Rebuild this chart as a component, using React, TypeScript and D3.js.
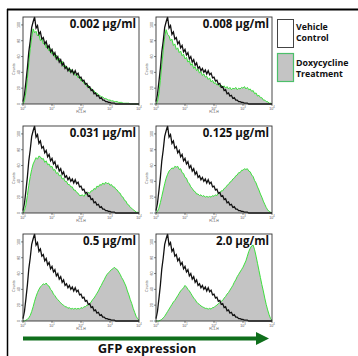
import React from "react";
import * as d3 from "d3";

// log10(FL1-H) bins, 0.05 wide, 0..4
const logBins = d3.range(0, 81).map((i) => i / 20);

const vehicleCounts = [
  3, 12, 28, 45, 66, 80, 97, 104, 110, 96, 99, 88, 91, 82, 84, 76, 79, 71, 74, 66,
  69, 62, 65, 57, 60, 53, 56, 49, 52, 45, 47, 42, 45, 40, 43, 38, 42, 37, 39, 33,
  34, 29, 30, 25, 26, 21, 22, 17, 18, 13, 14, 10, 11, 7, 8, 5, 5, 3, 3, 2,
  2, 1, 1, 1, 0, 0, 0, 0, 0, 0, 0, 0, 0, 0, 0, 0, 0, 0, 0, 0, 0,
];

const dox0002 = [
  0, 4, 15, 32, 52, 70, 84, 95, 90, 92, 86, 88, 80, 83, 76, 78, 71, 74, 67, 70,
  63, 66, 59, 62, 55, 58, 51, 54, 47, 49, 44, 46, 41, 44, 39, 41, 36, 38, 33, 35,
  29, 31, 26, 27, 22, 24, 19, 20, 16, 17, 13, 14, 11, 11, 9, 9, 7, 7, 6, 5,
  5, 4, 4, 3, 3, 3, 2, 2, 2, 1, 1, 1, 1, 1, 0, 0, 0, 0, 0, 0, 0,
];
const dox0008 = [
  0, 3, 13, 30, 50, 68, 85, 94, 88, 86, 80, 82, 74, 76, 69, 71, 65, 67, 61, 63,
  57, 59, 53, 55, 49, 51, 45, 47, 42, 44, 39, 41, 36, 38, 34, 35, 31, 33, 28, 30,
  26, 27, 24, 25, 22, 24, 21, 23, 20, 22, 19, 21, 18, 20, 19, 21, 18, 20, 19, 21,
  20, 22, 19, 21, 18, 19, 16, 17, 13, 14, 10, 11, 8, 8, 5, 5, 3, 3, 1, 1, 0,
];
const dox0031 = [
  0, 3, 10, 22, 35, 46, 55, 62, 66, 70, 68, 72, 71, 68, 69, 64, 66, 61, 62, 58,
  59, 54, 55, 50, 51, 47, 48, 43, 44, 40, 40, 36, 36, 33, 33, 29, 29, 26, 25, 22,
  22, 23, 21, 24, 23, 26, 25, 28, 28, 31, 30, 34, 33, 36, 35, 38, 36, 39, 37, 38,
  35, 36, 33, 33, 30, 29, 26, 25, 21, 20, 16, 15, 11, 10, 7, 6, 4, 3, 1, 1, 0,
];
const dox0125 = [
  0, 2, 6, 13, 21, 29, 37, 44, 49, 53, 55, 57, 56, 59, 58, 59, 55, 56, 51, 50,
  45, 44, 39, 37, 33, 31, 28, 27, 24, 24, 22, 23, 21, 22, 20, 21, 20, 21, 20, 22,
  21, 23, 22, 25, 25, 28, 28, 31, 32, 35, 36, 39, 40, 43, 44, 47, 48, 51, 51, 54,
  54, 56, 55, 56, 53, 52, 48, 46, 41, 38, 33, 29, 24, 20, 15, 11, 7, 4, 2, 1, 0,
];
const dox05 = [
  0, 0, 1, 2, 4, 7, 12, 18, 25, 31, 36, 40, 43, 45, 47, 46, 48, 45, 44, 40,
  38, 34, 32, 29, 27, 25, 23, 21, 20, 18, 18, 16, 17, 15, 16, 15, 16, 15, 16, 15,
  17, 16, 18, 18, 20, 20, 22, 24, 27, 29, 32, 35, 38, 42, 45, 49, 52, 56, 59, 61,
  63, 65, 66, 68, 66, 65, 62, 59, 55, 52, 48, 44, 38, 33, 27, 22, 16, 11, 6, 3, 1,
];
const dox20 = [
  0, 0, 0, 1, 2, 4, 6, 9, 12, 15, 18, 21, 24, 26, 29, 32, 35, 38, 40, 42,
  45, 43, 40, 38, 35, 32, 29, 27, 24, 22, 21, 19, 18, 17, 16, 16, 15, 16, 15, 17,
  17, 19, 20, 22, 23, 25, 26, 29, 31, 34, 36, 39, 42, 45, 49, 52, 56, 59, 62, 65,
  68, 72, 76, 82, 88, 92, 95, 96, 90, 82, 73, 64, 55, 46, 38, 29, 21, 14, 8, 3, 1,
];

const panelTitles = ["0.002 µg/ml", "0.008 µg/ml", "0.031 µg/ml", "0.125 µg/ml", "0.5 µg/ml", "2.0 µg/ml"];
const panelSeries = [dox0002, dox0008, dox0031, dox0125, dox05, dox20];
const legendLabels = [["Vehicle", "Control"], ["Doxycycline", "Treatment"]];
const xTickExps = [0, 1, 2, 3, 4];
const yTicks = [0, 20, 40, 60, 80, 100];

const colX = [23, 156];
const rowY = [17, 126, 234];
const pw = 116;
const ph = 87;

const GREEN = "#3ee03e";
const FILL = "#c4c4c4";

function Panel({ x0, y0, title, dox }: { x0: number; y0: number; title: string; dox: number[] }) {
  const x = d3.scaleLinear().domain([0, 4]).range([0, pw]);
  const y = d3.scaleLinear().domain([0, 110]).range([ph, 0]);
  const area = d3
    .area<number>()
    .x((_, i) => x(logBins[i]))
    .y0(ph)
    .y1((d) => y(d));
  const line = d3
    .line<number>()
    .x((_, i) => x(logBins[i]))
    .y((d) => y(d));
  return (
    <g transform={`translate(${x0},${y0})`}>
      <path d={area(dox) ?? ""} fill={FILL} />
      <path d={line(dox) ?? ""} fill="none" stroke={GREEN} strokeWidth={1} />
      <path d={line(vehicleCounts) ?? ""} fill="none" stroke="#111" strokeWidth={1.3} />
      <rect x={0} y={0} width={pw} height={ph} fill="none" stroke="#333" strokeWidth={0.9} />
      {xTickExps.map((e) => (
        <g key={e} transform={`translate(${x(e)},${ph})`}>
          <line y2={2} stroke="#333" strokeWidth={0.6} />
          <text y={5.5} fontSize={3.6} textAnchor="middle" fill="#555" fontFamily="Arial, sans-serif">
            10<tspan dy={-1.5} fontSize={2.6}>{e}</tspan>
          </text>
        </g>
      ))}
      <text x={x(2)} y={ph + 9} fontSize={3.4} textAnchor="middle" fill="#555" fontFamily="Arial, sans-serif">
        FL1-H
      </text>
      {yTicks.map((t) => (
        <g key={t} transform={`translate(0,${y(t)})`}>
          <line x2={-2} stroke="#333" strokeWidth={0.6} />
          <text transform="translate(-3,0) rotate(-90)" fontSize={3.6} textAnchor="middle" fill="#555" fontFamily="Arial, sans-serif">
            {t}
          </text>
        </g>
      ))}
      <text transform={`translate(-8,${ph * 0.6}) rotate(-90)`} fontSize={3.6} textAnchor="middle" fill="#555" fontFamily="Arial, sans-serif">
        Counts
      </text>
      <text x={pw - 3} y={11} fontSize={11.5} fontWeight="bold" textAnchor="end" fill="#111" fontFamily="'Open Sans', sans-serif">
        {title}
      </text>
    </g>
  );
}

export default function App() {
  return (
    <svg width={358} height={356} style={{ position: "absolute", left: 0, top: 0, background: "#fff" }}>
      <rect width={358} height={356} fill="#fff" />
      <line x1={7} y1={9.5} x2={358} y2={9.5} stroke="#000" strokeWidth={2} />
      <line x1={7.5} y1={9} x2={7.5} y2={356} stroke="#000" strokeWidth={1.5} />
      {panelTitles.map((t, i) => (
        <Panel key={t} x0={colX[i % 2]} y0={rowY[Math.floor(i / 2)]} title={t} dox={panelSeries[i]} />
      ))}
      {/* legend */}
      <rect x={277.5} y={19.5} width={16} height={28} fill="#fff" stroke="#444" strokeWidth={1} />
      <rect x={277.5} y={53.5} width={16} height={28} fill={FILL} stroke="#4cbf6a" strokeWidth={1.2} />
      <g fontFamily="'Open Sans', sans-serif" fontWeight="bold" fontSize={8.8} fill="#111">
        {legendLabels.map((lines, k) =>
          lines.map((s, j) => (
            <text key={s} x={296} y={30 + k * 36 + j * 11}>
              {s}
            </text>
          ))
        )}
      </g>
      {/* GFP arrow */}
      <line x1={23} y1={338.5} x2={258} y2={338.5} stroke="#0f6f1c" strokeWidth={4} />
      <polygon points="256,332 269,338.5 256,345" fill="#0f6f1c" />
      <text x={147} y={353} fontSize={13} fontWeight="bold" textAnchor="middle" fill="#111" fontFamily="'Open Sans', sans-serif">
        GFP expression
      </text>
    </svg>
  );
}
